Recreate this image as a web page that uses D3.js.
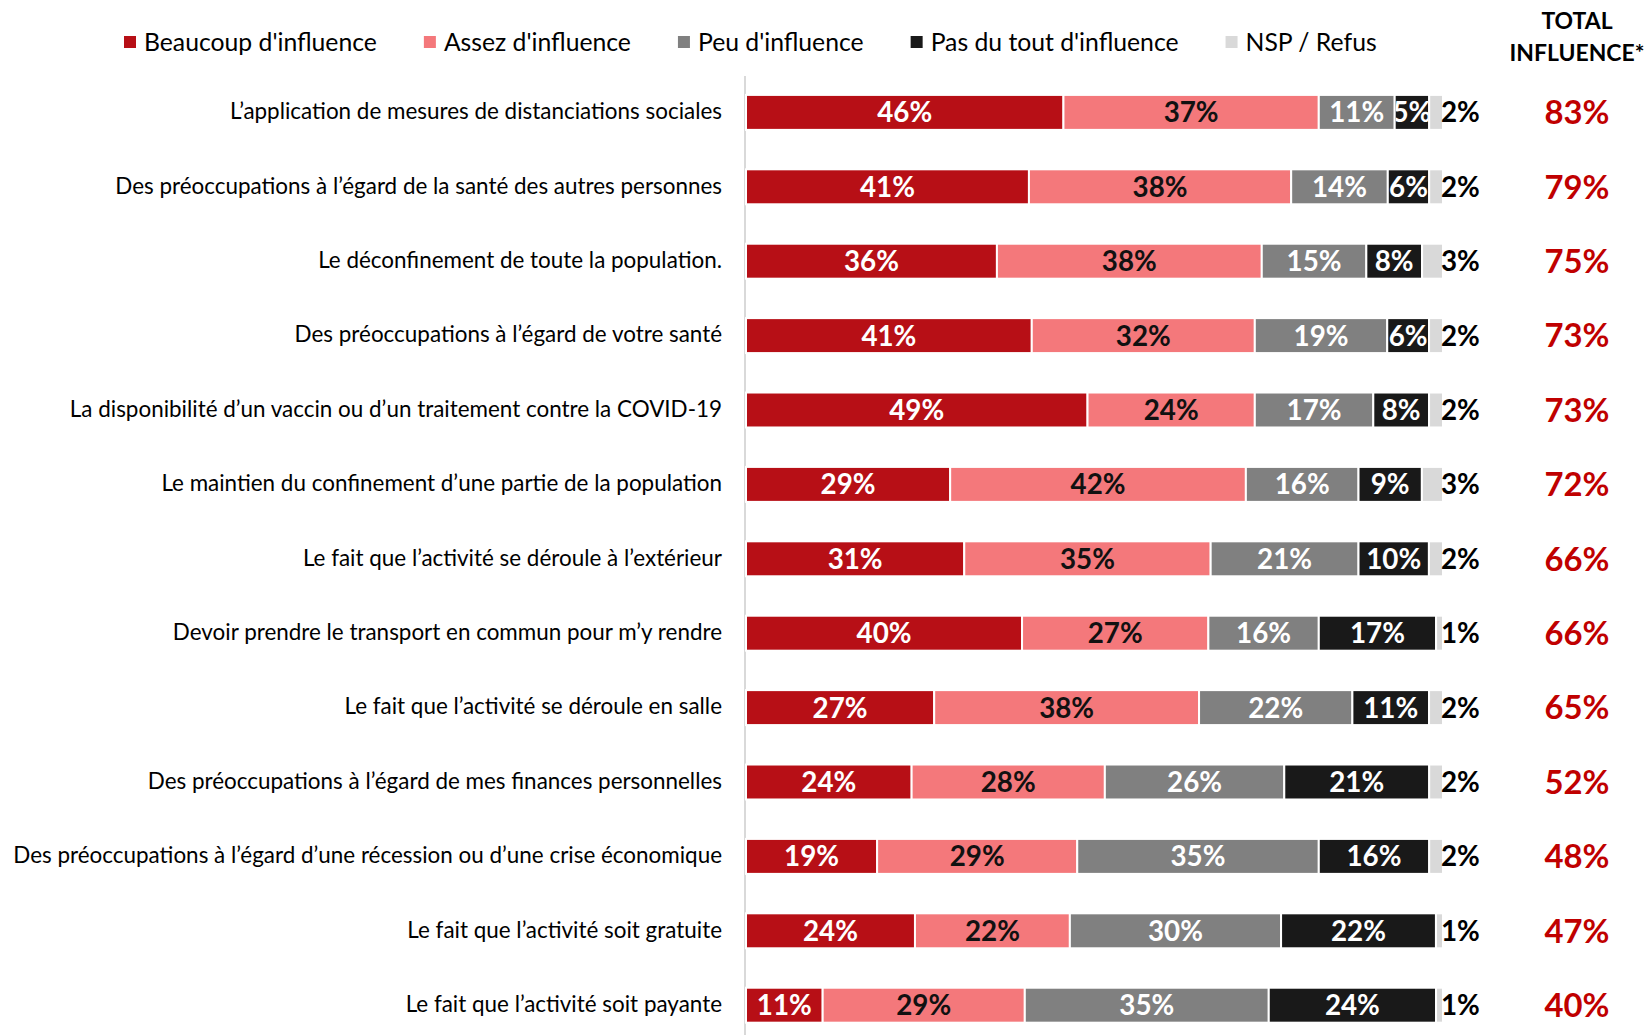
<!DOCTYPE html>
<html><head><meta charset="utf-8">
<script src="https://cdn.jsdelivr.net/npm/d3@7"></script>
<style>
html,body{margin:0;padding:0;background:#fff;}
svg{display:block;font-family:Lato,"Open Sans",sans-serif;}
</style></head>
<body>
<svg id="chart" width="1647" height="1035"></svg>
<script>
const categories = [
  "L\u2019application de mesures de distanciations sociales",
  "Des préoccupations à l\u2019égard de la santé des autres personnes",
  "Le déconfinement de toute la population.",
  "Des préoccupations à l\u2019égard de votre santé",
  "La disponibilité d\u2019un vaccin ou d\u2019un traitement contre la COVID-19",
  "Le maintien du confinement d\u2019une partie de la population",
  "Le fait que l\u2019activité se déroule à l\u2019extérieur",
  "Devoir prendre le transport en commun pour m\u2019y rendre",
  "Le fait que l\u2019activité se déroule en salle",
  "Des préoccupations à l\u2019égard de mes finances personnelles",
  "Des préoccupations à l\u2019égard d\u2019une récession ou d\u2019une crise économique",
  "Le fait que l\u2019activité soit gratuite",
  "Le fait que l\u2019activité soit payante"
];
const seriesNames = ["Beaucoup d'influence","Assez d'influence","Peu d'influence","Pas du tout d'influence","NSP / Refus"];
const beaucoup = [46,41,36,41,49,29,31,40,27,24,19,24,11];
const assez    = [37,38,38,32,24,42,35,27,38,28,29,22,29];
const peu      = [11,14,15,19,17,16,21,16,22,26,35,30,35];
const pasDuTout= [5,6,8,6,8,9,10,17,11,21,16,22,24];
const nsp      = [2,2,3,2,2,3,2,1,2,2,2,1,1];
const totalInfluence = [83,79,75,73,73,72,66,66,65,52,48,47,40];
const totalHeader = ["TOTAL","INFLUENCE*"];

const colors = ["#b70f16","#f4787b","#808080","#191919","#d9d9d9"];
const labelColors = ["#fff","#111","#fff","#fff","#000"];

const svg = d3.select("#chart");
const keys = ["b","a","p","t","n"];
const rows = categories.map((c,i)=>({cat:c,b:beaucoup[i],a:assez[i],p:peu[i],t:pasDuTout[i],n:nsp[i],tot:totalInfluence[i]}));
const stack = d3.stack().keys(keys).offset(d3.stackOffsetExpand)(rows);

const x = d3.scaleLinear().domain([0,1]).range([746,1443]);
const y = d3.scaleBand().domain(categories).range([75.2,1042.4]).paddingInner(0.53).paddingOuter(0.265);

function fit(sel, target){
  const node = sel.node();
  const fs = parseFloat(sel.attr("font-size"));
  const w = node.getComputedTextLength();
  return fs*target/w;
}

// axis line
svg.append("line").attr("x1",745).attr("x2",745).attr("y1",76).attr("y2",1035)
  .attr("stroke","#d9d9d9").attr("stroke-width",2);

// category labels
const probe = svg.append("text").attr("font-size",20).text(categories[10]);
const catFs = fit(probe,709); probe.remove();
const yAxis = d3.axisLeft(y).tickSize(0).tickPadding(0);
const gy = svg.append("g").attr("transform","translate(722,-1)").call(yAxis);
gy.select(".domain").remove();
gy.selectAll("text").attr("font-size",catFs).attr("fill","#000").style("font-family","Lato, sans-serif").attr("dy","0.35em");

// bar label font
const probe2 = svg.append("text").attr("font-size",26).attr("font-weight","bold").text("46%");
const barFs = fit(probe2,55); probe2.remove();

const defs = svg.append("defs");
stack.forEach((layer,li)=>{
  const g = svg.append("g");
  layer.forEach((d,ri)=>{
    const x0 = x(d[0]), x1 = x(d[1]);
    const yy = y(categories[ri]), h = y.bandwidth();
    g.append("rect").attr("x",x0).attr("y",yy).attr("width",Math.max(0,x1-x0)).attr("height",h)
      .attr("fill",colors[li]).attr("stroke","#fff").attr("stroke-width",2);
    const v = d.data[keys[li]];
    if(li<4){
      const id = `c${li}_${ri}`;
      defs.append("clipPath").attr("id",id).append("rect").attr("x",x0+1).attr("y",yy).attr("width",Math.max(0,x1-x0-2)).attr("height",h);
      g.append("text").attr("clip-path",`url(#${id})`)
        .attr("x",(x0+x1)/2).attr("y",yy+h/2).attr("dy","0.36em")
        .attr("text-anchor","middle").attr("font-weight","bold").attr("font-size",barFs)
        .attr("fill",labelColors[li]).text(v+"%");
    } else {
      g.append("text").attr("x",x1-2).attr("y",yy+h/2).attr("dy","0.36em")
        .attr("text-anchor","start").attr("font-weight","bold").attr("font-size",barFs)
        .attr("fill",labelColors[li]).text(v+"%");
    }
  });
});

// totals
const probe3 = svg.append("text").attr("font-size",30).attr("font-weight","bold").text("83%");
const totFs = fit(probe3,65); probe3.remove();
svg.append("g").selectAll("text").data(rows).join("text")
  .attr("x",1577).attr("y",d=>y(d.cat)+y.bandwidth()/2).attr("dy","0.36em")
  .attr("text-anchor","middle").attr("font-weight","bold").attr("font-size",totFs)
  .attr("fill","#c00000").text(d=>d.tot+"%");

const probe4 = svg.append("text").attr("font-size",20).attr("font-weight","bold").text(totalHeader[1]);
const hdFs = fit(probe4,135); probe4.remove();
svg.append("g").selectAll("text").data(totalHeader).join("text")
  .attr("x",1577).attr("y",(d,i)=>21+i*32).attr("dy","0.36em")
  .attr("text-anchor","middle").attr("font-weight","bold").attr("font-size",hdFs)
  .attr("fill","#000").text(d=>d);

// legend
const probe5 = svg.append("text").attr("font-size",22).text(seriesNames[0]);
const lgFs = fit(probe5,233); probe5.remove();
let lx = 124;
const lg = svg.append("g");
seriesNames.forEach((n,i)=>{
  lg.append("rect").attr("x",lx).attr("y",36).attr("width",12).attr("height",12).attr("fill",colors[i]);
  const t = lg.append("text").attr("x",lx+20).attr("y",42).attr("dy","0.36em").attr("font-size",lgFs).attr("fill","#000").text(n);
  lx = lx+20+t.node().getComputedTextLength()+47;
});
</script>
</body></html>
